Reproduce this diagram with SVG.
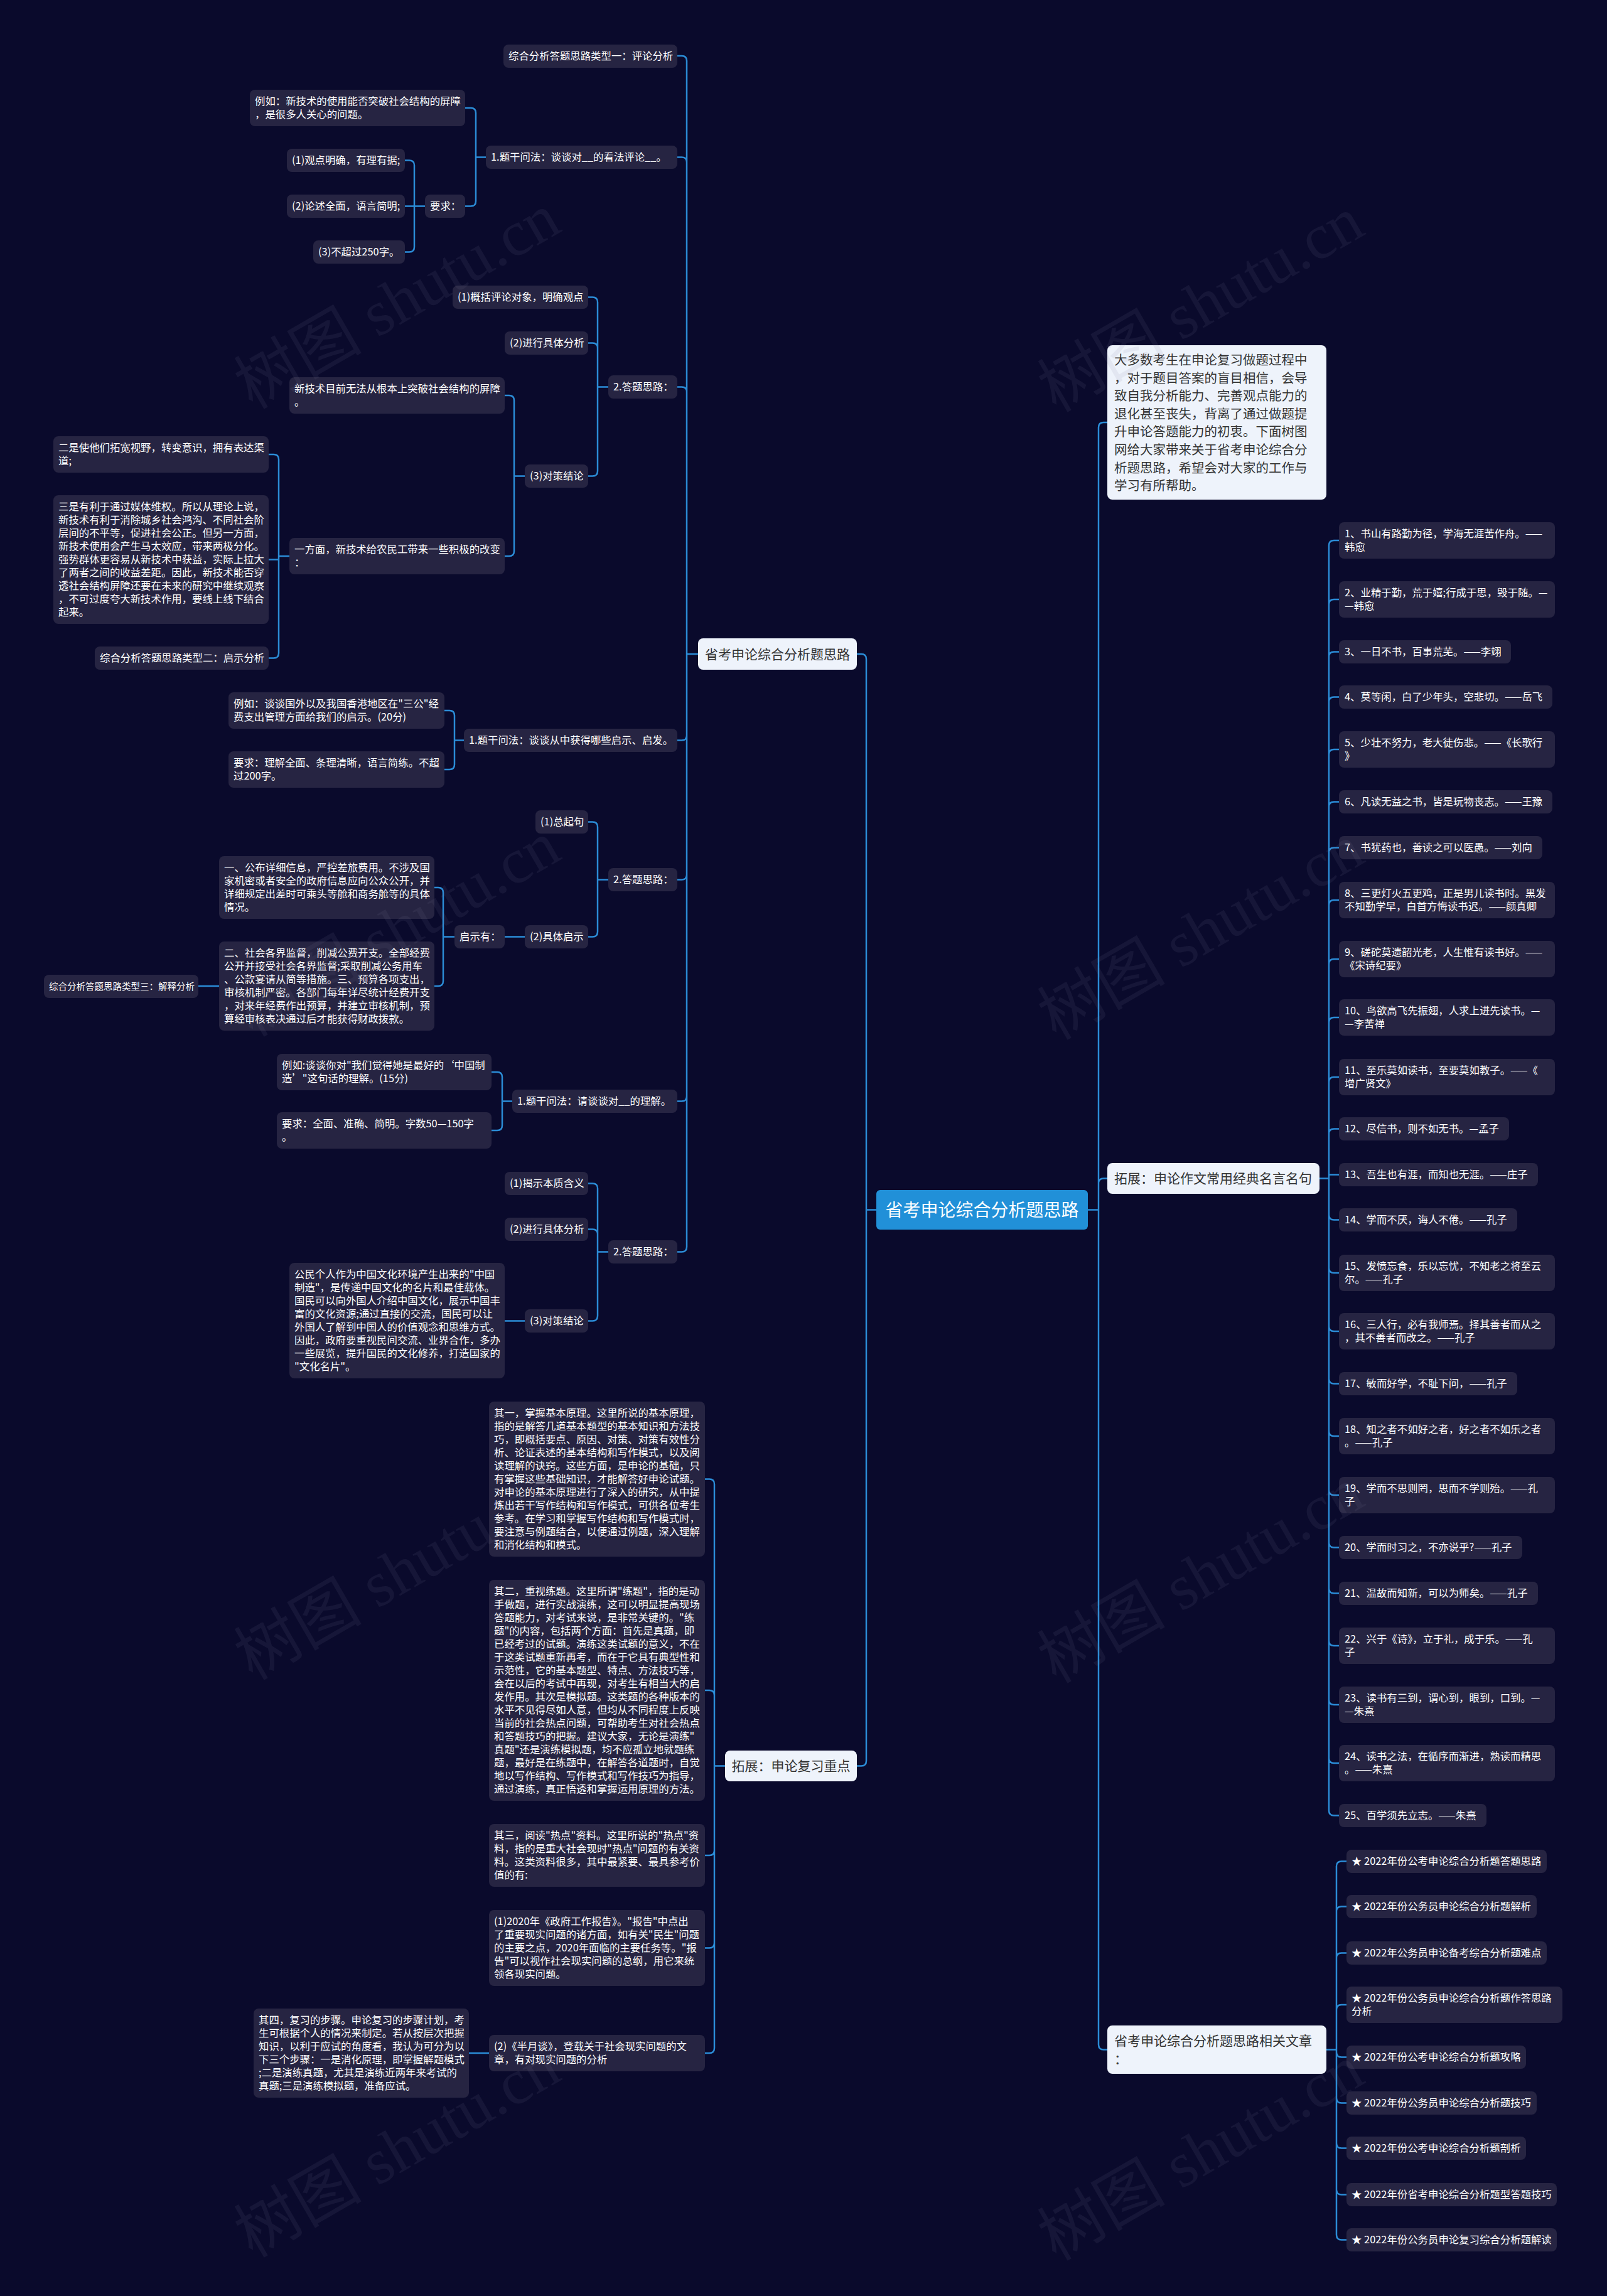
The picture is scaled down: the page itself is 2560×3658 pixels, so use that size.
<svg xmlns="http://www.w3.org/2000/svg" width="2560" height="3658" viewBox="0 0 2560 3658">
<style>
.bg{fill:#0a0a2c}
.n{fill:#262442}
.t{font-family:"Noto Sans CJK SC","Noto Sans",sans-serif;font-size:16.4px;fill:#ffffff}
.l1{fill:#eef3fb}
.l1t{font-family:"Noto Sans CJK SC","Noto Sans",sans-serif;font-size:21px;fill:#333333}
.it{font-family:"Noto Sans CJK SC","Noto Sans",sans-serif;font-size:20.5px;fill:#333333}
.root{fill:#2190d8}
.rt{font-family:"Noto Sans CJK SC","Noto Sans",sans-serif;font-size:28px;fill:#ffffff}
.c{fill:none;stroke:#2b8cd6;stroke-width:2.5}
.wm{font-family:"Liberation Serif","Noto Sans CJK SC",serif;font-size:102px;fill:#8080a0;opacity:.1}
</style>
<rect class="bg" x="0" y="0" width="2560" height="3658"/>

<g id="connectors">
<path class="c" d="M1396 1927.5H1380M1380 1927.5V1050Q1380 1042 1372 1042H1365M1380 1927.5V2805.5Q1380 2813.5 1372 2813.5H1365"/>
<path class="c" d="M1733 1927.5H1750M1750 1927.5V681Q1750 673 1758 673H1764M1750 1927.5V1885.5Q1750 1877.5 1758 1877.5H1764M1750 1927.5V3257.5Q1750 3265.5 1758 3265.5H1764"/>
<path class="c" d="M1112 1042H1094M1094 1042V97Q1094 89 1086 89H1079M1094 1042V258.5Q1094 250.5 1086 250.5H1079M1094 1042V624.5Q1094 616.5 1086 616.5H1079M1094 1042V1171.5Q1094 1179.5 1086 1179.5H1079M1094 1042V1393.5Q1094 1401.5 1086 1401.5H1079M1094 1042V1746.5Q1094 1754.5 1086 1754.5H1079M1094 1042V1986.5Q1094 1994.5 1086 1994.5H1079"/>
<path class="c" d="M774 250.5H758M758 250.5V180Q758 172 750 172H741M758 250.5V320.5Q758 328.5 750 328.5H741"/>
<path class="c" d="M677 328.5H645M660 328.5V263.5Q660 255.5 652 255.5H645M660 328.5V393.5Q660 401.5 652 401.5H645"/>
<path class="c" d="M969 616.5H952M952 616.5V481.5Q952 473.5 944 473.5H937M952 616.5V554.5Q952 546.5 944 546.5H937M952 616.5V750.5Q952 758.5 944 758.5H937"/>
<path class="c" d="M836 758.5H819M819 758.5V638Q819 630 811 630H804M819 758.5V878Q819 886 811 886H804"/>
<path class="c" d="M461 886H444M444 886V732Q444 724 436 724H428M444 886V891.5H428M444 886V1040.5Q444 1048.5 436 1048.5H428"/>
<path class="c" d="M739 1179.5H724M724 1179.5V1140Q724 1132 716 1132H708M724 1179.5V1218Q724 1226 716 1226H708"/>
<path class="c" d="M969 1401.5H952M952 1401.5V1317.5Q952 1309.5 944 1309.5H937M952 1401.5V1484.5Q952 1492.5 944 1492.5H937"/>
<path class="c" d="M836 1492.5H804"/>
<path class="c" d="M724 1492.5H706M706 1492.5V1422Q706 1414 698 1414H692M706 1492.5V1563Q706 1571 698 1571H692"/>
<path class="c" d="M349 1571H316"/>
<path class="c" d="M816 1754.5H800M800 1754.5V1716Q800 1708 792 1708H783M800 1754.5V1793Q800 1801 792 1801H783"/>
<path class="c" d="M969 1994.5H952M952 1994.5V1893.5Q952 1885.5 944 1885.5H937M952 1994.5V1966.5Q952 1958.5 944 1958.5H937M952 1994.5V2096.5Q952 2104.5 944 2104.5H937"/>
<path class="c" d="M836 2104.5H804"/>
<path class="c" d="M1155 2813.5H1138M1138 2813.5V2364.5Q1138 2356.5 1130 2356.5H1123M1138 2813.5V2701Q1138 2693 1130 2693H1123M1138 2813.5V2948Q1138 2956 1130 2956H1123M1138 2813.5V3095.5Q1138 3103.5 1130 3103.5H1123M1138 2813.5V3263Q1138 3271 1130 3271H1123"/>
<path class="c" d="M779 3271H747"/>
<path class="c" d="M2102 1877.5H2117M2117 1877.5V869Q2117 861 2125 861H2133M2117 1877.5V963Q2117 955 2125 955H2133M2117 1877.5V1046.5Q2117 1038.5 2125 1038.5H2133M2117 1877.5V1118.5Q2117 1110.5 2125 1110.5H2133M2117 1877.5V1202Q2117 1194 2125 1194H2133M2117 1877.5V1285.5Q2117 1277.5 2125 1277.5H2133M2117 1877.5V1358.5Q2117 1350.5 2125 1350.5H2133M2117 1877.5V1442Q2117 1434 2125 1434H2133M2117 1877.5V1536Q2117 1528 2125 1528H2133M2117 1877.5V1629Q2117 1621 2125 1621H2133M2117 1877.5V1724Q2117 1716 2125 1716H2133M2117 1877.5V1806.5Q2117 1798.5 2125 1798.5H2133M2117 1877.5V1871.5H2133M2117 1877.5V1935.5Q2117 1943.5 2125 1943.5H2133M2117 1877.5V2020Q2117 2028 2125 2028H2133M2117 1877.5V2113Q2117 2121 2125 2121H2133M2117 1877.5V2196.5Q2117 2204.5 2125 2204.5H2133M2117 1877.5V2280Q2117 2288 2125 2288H2133M2117 1877.5V2374Q2117 2382 2125 2382H2133M2117 1877.5V2457.5Q2117 2465.5 2125 2465.5H2133M2117 1877.5V2530.5Q2117 2538.5 2125 2538.5H2133M2117 1877.5V2614Q2117 2622 2125 2622H2133M2117 1877.5V2708Q2117 2716 2125 2716H2133M2117 1877.5V2801Q2117 2809 2125 2809H2133M2117 1877.5V2884.5Q2117 2892.5 2125 2892.5H2133"/>
<path class="c" d="M2113 3265.5H2129M2129 3265.5V2973.5Q2129 2965.5 2137 2965.5H2145M2129 3265.5V3045.5Q2129 3037.5 2137 3037.5H2145M2129 3265.5V3119.5Q2129 3111.5 2137 3111.5H2145M2129 3265.5V3202Q2129 3194 2137 3194H2145M2129 3265.5V3269.5Q2129 3277.5 2137 3277.5H2145M2129 3265.5V3342.5Q2129 3350.5 2137 3350.5H2145M2129 3265.5V3414.5Q2129 3422.5 2137 3422.5H2145M2129 3265.5V3488.5Q2129 3496.5 2137 3496.5H2145M2129 3265.5V3560.5Q2129 3568.5 2137 3568.5H2145"/>
</g>

<g id="n-root"><rect class="root" x="1396" y="1896" width="337" height="63" rx="6"/><text class="rt" x="1564.5" y="1938" text-anchor="middle">省考申论综合分析题思路</text></g>

<g id="n-a0"><rect class="l1" x="1112" y="1017" width="253" height="50" rx="8"/><text class="l1t" x="1123" y="1049.5">省考申论综合分析题思路</text></g>
<g id="n-b0"><rect class="l1" x="1155" y="2789" width="210" height="49" rx="8"/><text class="l1t" x="1165.5" y="2821">拓展：申论复习重点</text></g>
<g id="n-intro"><rect class="l1" x="1764" y="550" width="349" height="246" rx="8"/><text class="it"><tspan x="1775" y="581">大多数考生在申论复习做题过程中</tspan><tspan x="1775" y="609.6">，对于题目答案的盲目相信，会导</tspan><tspan x="1775" y="638.2">致自我分析能力、完善观点能力的</tspan><tspan x="1775" y="666.8">退化甚至丧失，背离了通过做题提</tspan><tspan x="1775" y="695.4">升申论答题能力的初衷。下面树图</tspan><tspan x="1775" y="724">网给大家带来关于省考申论综合分</tspan><tspan x="1775" y="752.6">析题思路，希望会对大家的工作与</tspan><tspan x="1775" y="781.2">学习有所帮助。</tspan></text></g>
<g id="n-q0"><rect class="l1" x="1764" y="1853" width="338" height="49" rx="8"/><text class="l1t" x="1775" y="1885">拓展：申论作文常用经典名言名句</text></g>
<g id="n-r0"><rect class="l1" x="1764" y="3227" width="349" height="77" rx="8"/><text class="l1t"><tspan x="1775" y="3259">省考申论综合分析题思路相关文章</tspan><tspan x="1775" y="3288">：</tspan></text></g>

<g id="n1"><rect class="n" x="802" y="71" width="277" height="37" rx="8"/><text class="t" x="810" y="95">综合分析答题思路类型一：评论分析</text></g>
<g id="n2"><rect class="n" x="774" y="232" width="305" height="37" rx="8"/><text class="t" x="782" y="256">1.题干问法：谈谈对__的看法评论__。</text></g>
<g id="n3"><rect class="n" x="398" y="143" width="343" height="58" rx="8"/><text class="t"><tspan x="406" y="167">例如：新技术的使用能否突破社会结构的屏障</tspan><tspan x="406" y="188">，是很多人关心的问题。</tspan></text></g>
<g id="n4"><rect class="n" x="677" y="310" width="64" height="37" rx="8"/><text class="t" x="685" y="334">要求：</text></g>
<g id="n5"><rect class="n" x="457" y="237" width="188" height="37" rx="8"/><text class="t" x="465" y="261">(1)观点明确，有理有据;</text></g>
<g id="n6"><rect class="n" x="457" y="310" width="188" height="37" rx="8"/><text class="t" x="465" y="334">(2)论述全面，语言简明;</text></g>
<g id="n7"><rect class="n" x="499" y="383" width="146" height="37" rx="8"/><text class="t" x="507" y="407">(3)不超过250字。</text></g>
<g id="n8"><rect class="n" x="969" y="598" width="110" height="37" rx="8"/><text class="t" x="977" y="622">2.答题思路：</text></g>
<g id="n9"><rect class="n" x="721" y="455" width="216" height="37" rx="8"/><text class="t" x="729" y="479">(1)概括评论对象，明确观点</text></g>
<g id="n10"><rect class="n" x="804" y="528" width="133" height="37" rx="8"/><text class="t" x="812" y="552">(2)进行具体分析</text></g>
<g id="n11"><rect class="n" x="836" y="740" width="101" height="37" rx="8"/><text class="t" x="844" y="764">(3)对策结论</text></g>
<g id="n12"><rect class="n" x="461" y="601" width="343" height="58" rx="8"/><text class="t"><tspan x="469" y="625">新技术目前无法从根本上突破社会结构的屏障</tspan><tspan x="469" y="646">。</tspan></text></g>
<g id="n13"><rect class="n" x="461" y="857" width="343" height="58" rx="8"/><text class="t"><tspan x="469" y="881">一方面，新技术给农民工带来一些积极的改变</tspan><tspan x="469" y="902">：</tspan></text></g>
<g id="n14"><rect class="n" x="85" y="695" width="343" height="58" rx="8"/><text class="t"><tspan x="93" y="719">二是使他们拓宽视野，转变意识，拥有表达渠</tspan><tspan x="93" y="740">道;</tspan></text></g>
<g id="n15"><rect class="n" x="85" y="789" width="343" height="205" rx="8"/><text class="t"><tspan x="93" y="813">三是有利于通过媒体维权。所以从理论上说，</tspan><tspan x="93" y="834">新技术有利于消除城乡社会鸿沟、不同社会阶</tspan><tspan x="93" y="855">层间的不平等，促进社会公正。但另一方面，</tspan><tspan x="93" y="876">新技术使用会产生马太效应，带来两极分化。</tspan><tspan x="93" y="897">强势群体更容易从新技术中获益，实际上拉大</tspan><tspan x="93" y="918">了两者之间的收益差距。因此，新技术能否穿</tspan><tspan x="93" y="939">透社会结构屏障还要在未来的研究中继续观察</tspan><tspan x="93" y="960">，不可过度夸大新技术作用，要线上线下结合</tspan><tspan x="93" y="981">起来。</tspan></text></g>
<g id="n16"><rect class="n" x="151" y="1030" width="277" height="37" rx="8"/><text class="t" x="159" y="1054">综合分析答题思路类型二：启示分析</text></g>
<g id="n17"><rect class="n" x="739" y="1161" width="340" height="37" rx="8"/><text class="t" x="747" y="1185">1.题干问法：谈谈从中获得哪些启示、启发。</text></g>
<g id="n18"><rect class="n" x="364" y="1103" width="344" height="58" rx="8"/><text class="t"><tspan x="372" y="1127">例如：谈谈国外以及我国香港地区在"三公"经</tspan><tspan x="372" y="1148">费支出管理方面给我们的启示。(20分)</tspan></text></g>
<g id="n19"><rect class="n" x="364" y="1197" width="344" height="58" rx="8"/><text class="t"><tspan x="372" y="1221">要求：理解全面、条理清晰，语言简练。不超</tspan><tspan x="372" y="1242">过200字。</tspan></text></g>
<g id="n20"><rect class="n" x="853" y="1291" width="84" height="37" rx="8"/><text class="t" x="861" y="1315">(1)总起句</text></g>
<g id="n21"><rect class="n" x="969" y="1383" width="110" height="37" rx="8"/><text class="t" x="977" y="1407">2.答题思路：</text></g>
<g id="n22"><rect class="n" x="836" y="1474" width="101" height="37" rx="8"/><text class="t" x="844" y="1498">(2)具体启示</text></g>
<g id="n23"><rect class="n" x="724" y="1474" width="80" height="37" rx="8"/><text class="t" x="732" y="1498">启示有：</text></g>
<g id="n24"><rect class="n" x="349" y="1364" width="343" height="100" rx="8"/><text class="t"><tspan x="357" y="1388">一、公布详细信息，严控差旅费用。不涉及国</tspan><tspan x="357" y="1409">家机密或者安全的政府信息应向公众公开，并</tspan><tspan x="357" y="1430">详细规定出差时可乘头等舱和商务舱等的具体</tspan><tspan x="357" y="1451">情况。</tspan></text></g>
<g id="n25"><rect class="n" x="349" y="1500" width="343" height="142" rx="8"/><text class="t"><tspan x="357" y="1524">二、社会各界监督，削减公费开支。全部经费</tspan><tspan x="357" y="1545">公开并接受社会各界监督;采取削减公务用车</tspan><tspan x="357" y="1566">、公款宴请从简等措施。三、预算各项支出，</tspan><tspan x="357" y="1587">审核机制严密。各部门每年详尽统计经费开支</tspan><tspan x="357" y="1608">，对来年经费作出预算，并建立审核机制，预</tspan><tspan x="357" y="1629">算经审核表决通过后才能获得财政拨款。</tspan></text></g>
<g id="n26"><rect class="n" x="70" y="1553" width="246" height="37" rx="8"/><text class="t" x="78" y="1577" style="font-size:14.5px">综合分析答题思路类型三：解释分析</text></g>
<g id="n27"><rect class="n" x="816" y="1736" width="263" height="37" rx="8"/><text class="t" x="824" y="1760">1.题干问法：请谈谈对__的理解。</text></g>
<g id="n28"><rect class="n" x="441" y="1679" width="342" height="58" rx="8"/><text class="t"><tspan x="449" y="1703">例如:谈谈你对"我们觉得她是最好的‘中国制</tspan><tspan x="449" y="1724">造’"这句话的理解。(15分)</tspan></text></g>
<g id="n29"><rect class="n" x="441" y="1772" width="342" height="58" rx="8"/><text class="t"><tspan x="449" y="1796">要求：全面、准确、简明。字数50—150字</tspan><tspan x="449" y="1817">。</tspan></text></g>
<g id="n30"><rect class="n" x="804" y="1867" width="133" height="37" rx="8"/><text class="t" x="812" y="1891">(1)揭示本质含义</text></g>
<g id="n31"><rect class="n" x="804" y="1940" width="133" height="37" rx="8"/><text class="t" x="812" y="1964">(2)进行具体分析</text></g>
<g id="n32"><rect class="n" x="969" y="1976" width="110" height="37" rx="8"/><text class="t" x="977" y="2000">2.答题思路：</text></g>
<g id="n33"><rect class="n" x="836" y="2086" width="101" height="37" rx="8"/><text class="t" x="844" y="2110">(3)对策结论</text></g>
<g id="n34"><rect class="n" x="461" y="2012" width="343" height="184" rx="8"/><text class="t"><tspan x="469" y="2036">公民个人作为中国文化环境产生出来的"中国</tspan><tspan x="469" y="2057">制造"，是传递中国文化的名片和最佳载体。</tspan><tspan x="469" y="2078">国民可以向外国人介绍中国文化，展示中国丰</tspan><tspan x="469" y="2099">富的文化资源;通过直接的交流，国民可以让</tspan><tspan x="469" y="2120">外国人了解到中国人的价值观念和思维方式。</tspan><tspan x="469" y="2141">因此，政府要重视民间交流、业界合作，多办</tspan><tspan x="469" y="2162">一些展览，提升国民的文化修养，打造国家的</tspan><tspan x="469" y="2183">"文化名片"。</tspan></text></g>
<g id="n35"><rect class="n" x="779" y="2233" width="344" height="247" rx="8"/><text class="t"><tspan x="787" y="2257">其一，掌握基本原理。这里所说的基本原理，</tspan><tspan x="787" y="2278">指的是解答几道基本题型的基本知识和方法技</tspan><tspan x="787" y="2299">巧，即概括要点、原因、对策、对策有效性分</tspan><tspan x="787" y="2320">析、论证表述的基本结构和写作模式，以及阅</tspan><tspan x="787" y="2341">读理解的诀窍。这些方面，是申论的基础，只</tspan><tspan x="787" y="2362">有掌握这些基础知识，才能解答好申论试题。</tspan><tspan x="787" y="2383">对申论的基本原理进行了深入的研究，从中提</tspan><tspan x="787" y="2404">炼出若干写作结构和写作模式，可供各位考生</tspan><tspan x="787" y="2425">参考。在学习和掌握写作结构和写作模式时，</tspan><tspan x="787" y="2446">要注意与例题结合，以便通过例题，深入理解</tspan><tspan x="787" y="2467">和消化结构和模式。</tspan></text></g>
<g id="n36"><rect class="n" x="779" y="2517" width="344" height="352" rx="8"/><text class="t"><tspan x="787" y="2541">其二，重视练题。这里所谓"练题"，指的是动</tspan><tspan x="787" y="2562">手做题，进行实战演练，这可以明显提高现场</tspan><tspan x="787" y="2583">答题能力，对考试来说，是非常关键的。"练</tspan><tspan x="787" y="2604">题"的内容，包括两个方面：首先是真题，即</tspan><tspan x="787" y="2625">已经考过的试题。演练这类试题的意义，不在</tspan><tspan x="787" y="2646">于这类试题重新再考，而在于它具有典型性和</tspan><tspan x="787" y="2667">示范性，它的基本题型、特点、方法技巧等，</tspan><tspan x="787" y="2688">会在以后的考试中再现，对考生有相当大的启</tspan><tspan x="787" y="2709">发作用。其次是模拟题。这类题的各种版本的</tspan><tspan x="787" y="2730">水平不见得尽如人意，但均从不同程度上反映</tspan><tspan x="787" y="2751">当前的社会热点问题，可帮助考生对社会热点</tspan><tspan x="787" y="2772">和答题技巧的把握。建议大家，无论是演练"</tspan><tspan x="787" y="2793">真题"还是演练模拟题，均不应孤立地就题练</tspan><tspan x="787" y="2814">题，最好是在练题中，在解答各道题时，自觉</tspan><tspan x="787" y="2835">地以写作结构、写作模式和写作技巧为指导，</tspan><tspan x="787" y="2856">通过演练，真正悟透和掌握运用原理的方法。</tspan></text></g>
<g id="n37"><rect class="n" x="779" y="2906" width="344" height="100" rx="8"/><text class="t"><tspan x="787" y="2930">其三，阅读"热点"资料。这里所说的"热点"资</tspan><tspan x="787" y="2951">料，指的是重大社会现时"热点"问题的有关资</tspan><tspan x="787" y="2972">料。这类资料很多，其中最紧要、最具参考价</tspan><tspan x="787" y="2993">值的有:</tspan></text></g>
<g id="n38"><rect class="n" x="779" y="3043" width="344" height="121" rx="8"/><text class="t"><tspan x="787" y="3067">(1)2020年《政府工作报告》。"报告"中点出</tspan><tspan x="787" y="3088">了重要现实问题的诸方面，如有关"民生"问题</tspan><tspan x="787" y="3109">的主要之点，2020年面临的主要任务等。"报</tspan><tspan x="787" y="3130">告"可以视作社会现实问题的总纲，用它来统</tspan><tspan x="787" y="3151">领各现实问题。</tspan></text></g>
<g id="n39"><rect class="n" x="779" y="3242" width="344" height="58" rx="8"/><text class="t"><tspan x="787" y="3266">(2)《半月谈》，登载关于社会现实问题的文</tspan><tspan x="787" y="3287">章，有对现实问题的分析</tspan></text></g>
<g id="n40"><rect class="n" x="404" y="3200" width="343" height="142" rx="8"/><text class="t"><tspan x="412" y="3224">其四，复习的步骤。申论复习的步骤计划，考</tspan><tspan x="412" y="3245">生可根据个人的情况来制定。若从按层次把握</tspan><tspan x="412" y="3266">知识，以利于应试的角度看，我认为可分为以</tspan><tspan x="412" y="3287">下三个步骤：一是消化原理，即掌握解题模式</tspan><tspan x="412" y="3308">;二是演练真题，尤其是演练近两年来考试的</tspan><tspan x="412" y="3329">真题;三是演练模拟题，准备应试。</tspan></text></g>

<g id="q1"><rect class="n" x="2133" y="832" width="344" height="58" rx="8"/><text class="t"><tspan x="2142" y="856">1、书山有路勤为径，学海无涯苦作舟。——</tspan><tspan x="2142" y="877">韩愈</tspan></text></g>
<g id="q2"><rect class="n" x="2133" y="926" width="344" height="58" rx="8"/><text class="t"><tspan x="2142" y="950">2、业精于勤，荒于嬉;行成于思，毁于随。—</tspan><tspan x="2142" y="971">—韩愈</tspan></text></g>
<g id="q3"><rect class="n" x="2133" y="1020" width="274" height="37" rx="8"/><text class="t" x="2142" y="1044">3、一日不书，百事荒芜。——李翊</text></g>
<g id="q4"><rect class="n" x="2133" y="1092" width="340" height="37" rx="8"/><text class="t" x="2142" y="1116">4、莫等闲，白了少年头，空悲切。——岳飞</text></g>
<g id="q5"><rect class="n" x="2133" y="1165" width="344" height="58" rx="8"/><text class="t"><tspan x="2142" y="1189">5、少壮不努力，老大徒伤悲。——《长歌行</tspan><tspan x="2142" y="1210">》</tspan></text></g>
<g id="q6"><rect class="n" x="2133" y="1259" width="340" height="37" rx="8"/><text class="t" x="2142" y="1283">6、凡读无益之书，皆是玩物丧志。——王豫</text></g>
<g id="q7"><rect class="n" x="2133" y="1332" width="324" height="37" rx="8"/><text class="t" x="2142" y="1356">7、书犹药也，善读之可以医愚。——刘向</text></g>
<g id="q8"><rect class="n" x="2133" y="1405" width="344" height="58" rx="8"/><text class="t"><tspan x="2142" y="1429">8、三更灯火五更鸡，正是男儿读书时。黑发</tspan><tspan x="2142" y="1450">不知勤学早，白首方悔读书迟。——颜真卿</tspan></text></g>
<g id="q9"><rect class="n" x="2133" y="1499" width="344" height="58" rx="8"/><text class="t"><tspan x="2142" y="1523">9、磋砣莫遗韶光老，人生惟有读书好。——</tspan><tspan x="2142" y="1544">《宋诗纪要》</tspan></text></g>
<g id="q10"><rect class="n" x="2133" y="1592" width="344" height="58" rx="8"/><text class="t"><tspan x="2142" y="1616">10、鸟欲高飞先振翅，人求上进先读书。—</tspan><tspan x="2142" y="1637">—李苦禅</tspan></text></g>
<g id="q11"><rect class="n" x="2133" y="1687" width="344" height="58" rx="8"/><text class="t"><tspan x="2142" y="1711">11、至乐莫如读书，至要莫如教子。——《</tspan><tspan x="2142" y="1732">增广贤文》</tspan></text></g>
<g id="q12"><rect class="n" x="2133" y="1780" width="271" height="37" rx="8"/><text class="t" x="2142" y="1804">12、尽信书，则不如无书。—孟子</text></g>
<g id="q13"><rect class="n" x="2133" y="1853" width="317" height="37" rx="8"/><text class="t" x="2142" y="1877">13、吾生也有涯，而知也无涯。——庄子</text></g>
<g id="q14"><rect class="n" x="2133" y="1925" width="284" height="37" rx="8"/><text class="t" x="2142" y="1949">14、学而不厌，诲人不倦。——孔子</text></g>
<g id="q15"><rect class="n" x="2133" y="1999" width="344" height="58" rx="8"/><text class="t"><tspan x="2142" y="2023">15、发愤忘食，乐以忘忧，不知老之将至云</tspan><tspan x="2142" y="2044">尔。——孔子</tspan></text></g>
<g id="q16"><rect class="n" x="2133" y="2092" width="344" height="58" rx="8"/><text class="t"><tspan x="2142" y="2116">16、三人行，必有我师焉。择其善者而从之</tspan><tspan x="2142" y="2137">，其不善者而改之。——孔子</tspan></text></g>
<g id="q17"><rect class="n" x="2133" y="2186" width="284" height="37" rx="8"/><text class="t" x="2142" y="2210">17、敏而好学，不耻下问，——孔子</text></g>
<g id="q18"><rect class="n" x="2133" y="2259" width="344" height="58" rx="8"/><text class="t"><tspan x="2142" y="2283">18、知之者不如好之者，好之者不如乐之者</tspan><tspan x="2142" y="2304">。——孔子</tspan></text></g>
<g id="q19"><rect class="n" x="2133" y="2353" width="344" height="58" rx="8"/><text class="t"><tspan x="2142" y="2377">19、学而不思则罔，思而不学则殆。——孔</tspan><tspan x="2142" y="2398">子</tspan></text></g>
<g id="q20"><rect class="n" x="2133" y="2447" width="292" height="37" rx="8"/><text class="t" x="2142" y="2471">20、学而时习之，不亦说乎?——孔子</text></g>
<g id="q21"><rect class="n" x="2133" y="2520" width="317" height="37" rx="8"/><text class="t" x="2142" y="2544">21、温故而知新，可以为师矣。——孔子</text></g>
<g id="q22"><rect class="n" x="2133" y="2593" width="344" height="58" rx="8"/><text class="t"><tspan x="2142" y="2617">22、兴于《诗》，立于礼，成于乐。——孔</tspan><tspan x="2142" y="2638">子</tspan></text></g>
<g id="q23"><rect class="n" x="2133" y="2687" width="344" height="58" rx="8"/><text class="t"><tspan x="2142" y="2711">23、读书有三到，谓心到，眼到，口到。—</tspan><tspan x="2142" y="2732">—朱熹</tspan></text></g>
<g id="q24"><rect class="n" x="2133" y="2780" width="344" height="58" rx="8"/><text class="t"><tspan x="2142" y="2804">24、读书之法，在循序而渐进，熟读而精思</tspan><tspan x="2142" y="2825">。——朱熹</tspan></text></g>
<g id="q25"><rect class="n" x="2133" y="2874" width="235" height="37" rx="8"/><text class="t" x="2142" y="2898">25、百学须先立志。——朱熹</text></g>

<g id="a1"><rect class="n" x="2145" y="2947" width="319" height="37" rx="8"/><text class="t" x="2153" y="2971">★ 2022年份公考申论综合分析题答题思路</text></g>
<g id="a2"><rect class="n" x="2145" y="3019" width="303" height="37" rx="8"/><text class="t" x="2153" y="3043">★ 2022年份公务员申论综合分析题解析</text></g>
<g id="a3"><rect class="n" x="2145" y="3093" width="319" height="37" rx="8"/><text class="t" x="2153" y="3117">★ 2022年公务员申论备考综合分析题难点</text></g>
<g id="a4"><rect class="n" x="2145" y="3165" width="344" height="58" rx="8"/><text class="t"><tspan x="2153" y="3189">★ 2022年份公务员申论综合分析题作答思路</tspan><tspan x="2153" y="3210">分析</tspan></text></g>
<g id="a5"><rect class="n" x="2145" y="3259" width="286" height="37" rx="8"/><text class="t" x="2153" y="3283">★ 2022年份公考申论综合分析题攻略</text></g>
<g id="a6"><rect class="n" x="2145" y="3332" width="303" height="37" rx="8"/><text class="t" x="2153" y="3356">★ 2022年份公务员申论综合分析题技巧</text></g>
<g id="a7"><rect class="n" x="2145" y="3404" width="286" height="37" rx="8"/><text class="t" x="2153" y="3428">★ 2022年份公考申论综合分析题剖析</text></g>
<g id="a8"><rect class="n" x="2145" y="3478" width="335" height="37" rx="8"/><text class="t" x="2153" y="3502">★ 2022年份省考申论综合分析题型答题技巧</text></g>
<g id="a9"><rect class="n" x="2145" y="3550" width="335" height="37" rx="8"/><text class="t" x="2153" y="3574">★ 2022年份公务员申论复习综合分析题解读</text></g>

<g id="watermarks">
<text class="wm" text-anchor="middle" transform="translate(650 510) rotate(-30)">树图 shutu.cn</text>
<text class="wm" text-anchor="middle" transform="translate(1930 515) rotate(-30)">树图 shutu.cn</text>
<text class="wm" text-anchor="middle" transform="translate(650 1510) rotate(-30)">树图 shutu.cn</text>
<text class="wm" text-anchor="middle" transform="translate(1930 1515) rotate(-30)">树图 shutu.cn</text>
<text class="wm" text-anchor="middle" transform="translate(650 2535) rotate(-30)">树图 shutu.cn</text>
<text class="wm" text-anchor="middle" transform="translate(1930 2540) rotate(-30)">树图 shutu.cn</text>
<text class="wm" text-anchor="middle" transform="translate(650 3455) rotate(-30)">树图 shutu.cn</text>
<text class="wm" text-anchor="middle" transform="translate(1930 3460) rotate(-30)">树图 shutu.cn</text>
</g>
</svg>
